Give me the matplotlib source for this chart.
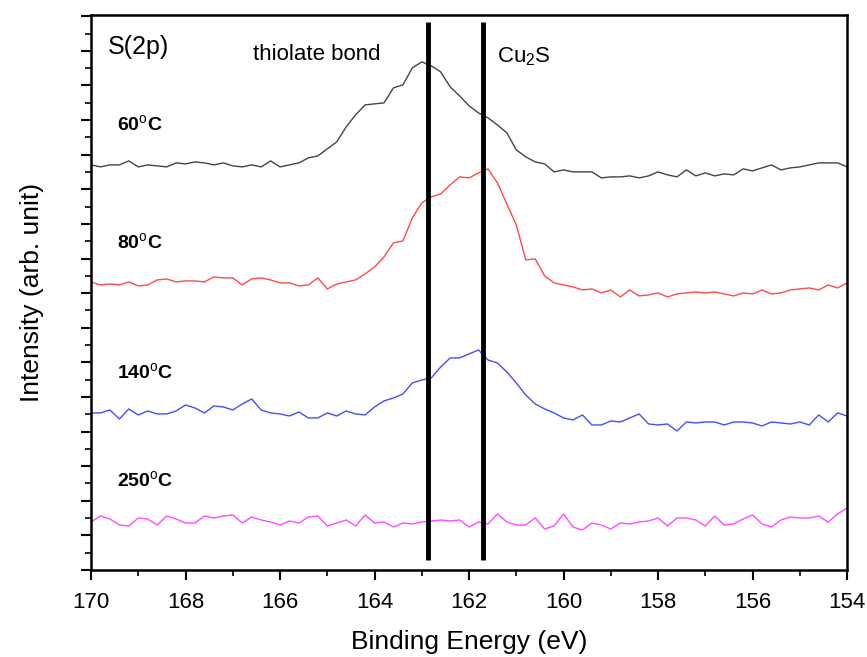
import numpy as np
import matplotlib
matplotlib.use("Agg")
import matplotlib.pyplot as plt
from matplotlib.ticker import MultipleLocator

plt.rcParams["font.family"] = ["Liberation Sans", "DejaVu Sans"]
plt.rcParams["mathtext.fontset"] = "custom"
plt.rcParams["mathtext.rm"] = "Liberation Sans"
plt.rcParams["mathtext.bf"] = "Liberation Sans:bold"

# binding energy grid, 170 -> 154 eV in 0.2 eV steps
energy = np.linspace(170, 154, 81)

# stacked spectra (arb. unit, offsets included)
s60 = [405, 403, 405, 405, 409, 403, 405, 404, 403, 407,
       406, 408, 407, 405, 407, 404, 403, 405, 403, 409,
       403, 405, 407, 412, 414, 421, 428, 443, 455, 465,
       466, 467, 482, 485, 502, 508, 504, 498, 483, 474,
       464, 457, 452, 445, 437, 420, 413, 408, 406, 398,
       400, 398, 398, 398, 392, 393, 393, 394, 392, 394,
       398, 395, 393, 400, 394, 397, 394, 396, 395, 401,
       399, 402, 405, 400, 402, 403, 405, 407, 407, 407,
       403]
s80 = [288, 285, 286, 285, 288, 284, 285, 290, 291, 288,
       289, 289, 288, 293, 292, 292, 285, 291, 292, 290,
       287, 287, 284, 285, 292, 281, 286, 288, 290, 296,
       303, 313, 327, 329, 352, 367, 373, 376, 385, 393,
       392, 397, 401, 387, 366, 345, 310, 311, 294, 287,
       285, 283, 280, 281, 277, 280, 273, 280, 274, 275,
       277, 273, 276, 277, 278, 277, 278, 276, 274, 277,
       276, 280, 276, 277, 280, 281, 282, 280, 285, 282,
       287]
s140 = [157, 157, 160, 151, 161, 155, 159, 156, 156, 159,
        165, 162, 157, 164, 163, 160, 166, 171, 160, 157,
        156, 154, 158, 152, 152, 157, 154, 159, 156, 155,
        163, 169, 172, 176, 187, 190, 192, 203, 212, 212,
        216, 220, 210, 207, 198, 187, 175, 166, 161, 157,
        152, 150, 155, 145, 145, 149, 148, 152, 156, 146,
        145, 146, 139, 148, 147, 148, 148, 145, 148, 148,
        147, 144, 148, 147, 146, 148, 145, 155, 148, 157,
        154]
s250 = [48, 54, 51, 45, 44, 52, 51, 45, 54, 51,
        47, 47, 54, 52, 54, 55, 47, 53, 50, 48,
        45, 49, 47, 53, 54, 44, 47, 50, 44, 55,
        47, 48, 43, 47, 46, 48, 49, 50, 49, 50,
        43, 48, 46, 56, 48, 45, 45, 52, 41, 44,
        56, 43, 40, 47, 45, 41, 47, 46, 48, 49,
        52, 44, 52, 52, 50, 44, 54, 45, 46, 51,
        55, 46, 43, 50, 53, 52, 52, 54, 48, 56,
        62]

series = [s60, s80, s140, s250]
labels = ["60", "80", "140", "250"]
colors = ["#454545", "#ff4a4a", "#4a4aff", "#ff4aff"]
label_y = [445, 327, 197, 89]

# reference peak positions (eV)
thiolate_be = 162.87
cu2s_be = 161.70

fig = plt.figure(figsize=(8.67, 6.57), dpi=100)
ax = fig.add_axes([0.105, 0.1324, 0.872, 0.845])

for vals, col in zip(series, colors):
    ax.plot(energy, vals, color=col, lw=1.0)

for lab, ly in zip(labels, label_y):
    ax.text(169.45, ly, lab + r"$^{\rm o}$C", fontsize=14,
            fontweight="bold", ha="left", va="center")

ax.vlines([thiolate_be, cu2s_be], 10, 548, color="black", lw=3.5, zorder=5)

ax.text(169.64, 523, "S(2p)", fontsize=18, ha="left", va="center")
ax.text(166.57, 515, "thiolate bond", fontsize=16, ha="left", va="center")
ax.text(161.41, 513, r"Cu$_2$S", fontsize=16, ha="left", va="center")

ax.set_xlim(170, 154)
ax.set_ylim(0, 555)
ax.xaxis.set_major_locator(MultipleLocator(2))
ax.xaxis.set_minor_locator(MultipleLocator(1))
ax.yaxis.set_major_locator(MultipleLocator(34.6))
ax.yaxis.set_minor_locator(MultipleLocator(17.3))
ax.tick_params(axis="both", which="major", direction="out", length=7, width=1.5,
               labelsize=16, pad=9)
ax.tick_params(axis="both", which="minor", direction="out", length=4, width=1.2)
ax.tick_params(axis="y", which="both", labelleft=False)

for sp in ax.spines.values():
    sp.set_linewidth(1.8)

ax.set_xlabel("Binding Energy (eV)", fontsize=19, labelpad=12)
ax.set_ylabel("Intensity (arb. unit)", fontsize=19, labelpad=27)

fig.savefig("out.png", dpi=100)
